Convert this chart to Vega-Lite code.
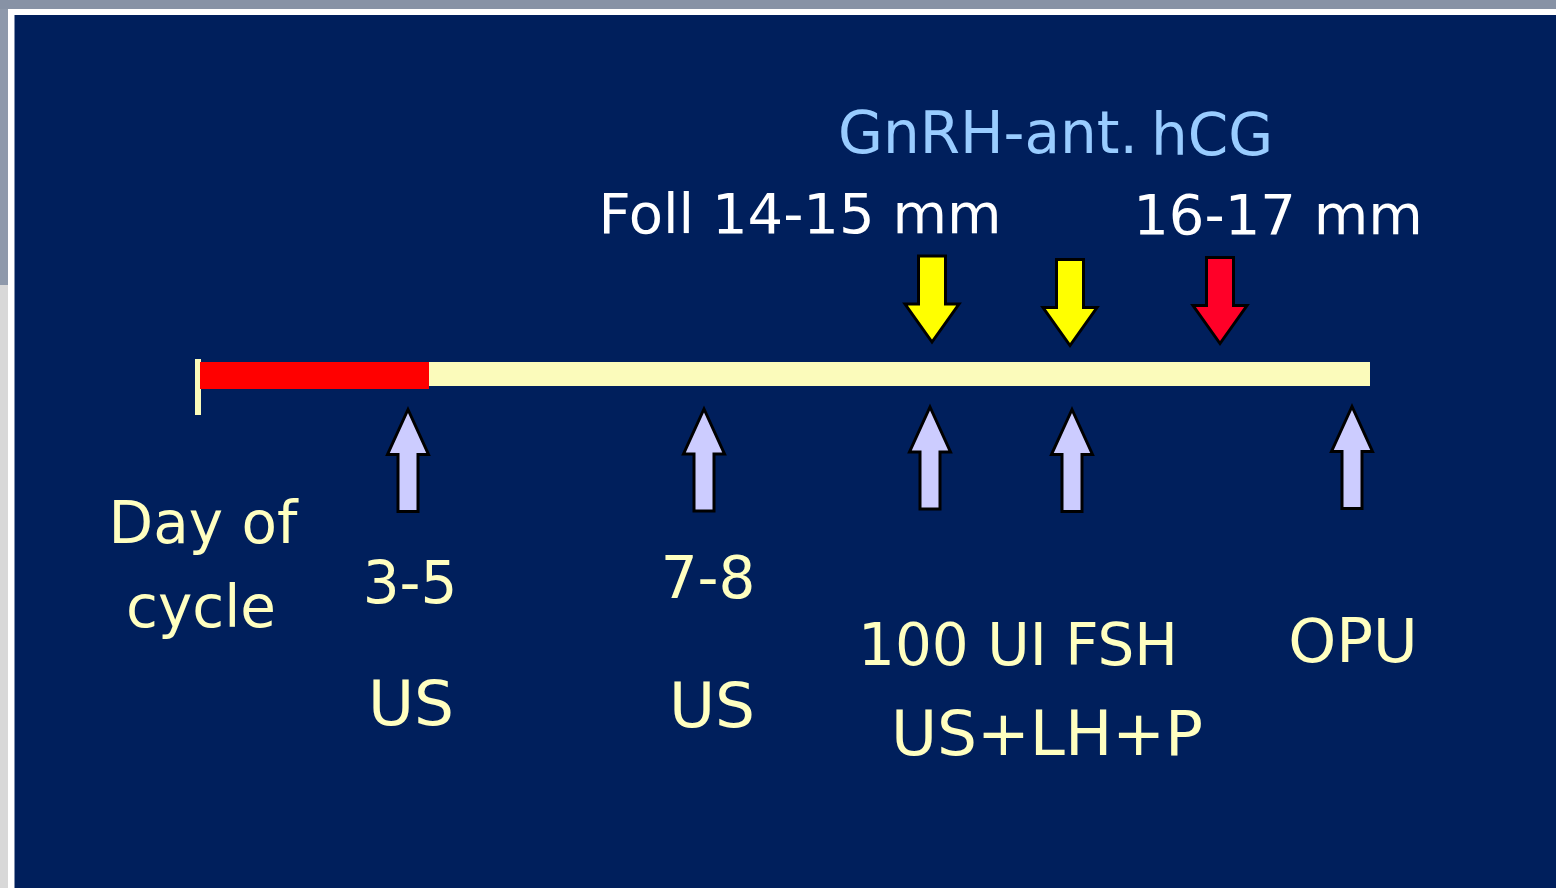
{
  "$schema": "https://vega.github.io/schema/vega-lite/v6.json",
  "width": 1556,
  "height": 888,
  "autosize": {"type": "fit", "contains": "padding"},
  "padding": 0,
  "background": "#ffffff",
  "view": {"stroke": null},
  "config": {"axis": {"disable": true}},
  "datasets": {
    "labels": [
      {"label": "Day  of", "kind": "day", "x": 203, "y": 543},
      {"label": "cycle", "kind": "day", "x": 201, "y": 627},
      {"label": "3-5", "kind": "day", "x": 410, "y": 603},
      {"label": "US", "kind": "procedure", "x": 411, "y": 725},
      {"label": "7-8", "kind": "day", "x": 708, "y": 598},
      {"label": "US", "kind": "procedure", "x": 712, "y": 727},
      {"label": "100 UI FSH", "kind": "day", "x": 1018, "y": 665},
      {"label": "US+LH+P", "kind": "procedure", "x": 1047, "y": 755},
      {"label": "OPU", "kind": "opu", "x": 1353, "y": 662},
      {"label": "Foll 14-15 mm", "kind": "size", "x": 800, "y": 233},
      {"label": "16-17 mm", "kind": "size", "x": 1278, "y": 234},
      {"label": "GnRH-ant.", "kind": "drug", "x": 988, "y": 153},
      {"label": "hCG", "kind": "drug", "x": 1212, "y": 155}
    ]
  },
  "layer": [
    {
      "data": {"values": [
        {"part": "top band", "x0": 0, "x1": 1556, "y0": 0, "y1": 9},
        {"part": "left band upper", "x0": 0, "x1": 8, "y0": 9, "y1": 285},
        {"part": "left band lower", "x0": 0, "x1": 8, "y0": 285, "y1": 888},
        {"part": "slide", "x0": 14.5, "x1": 1556, "y0": 15, "y1": 888}
      ]},
      "mark": {"type": "rect"},
      "encoding": {
        "x": {"field": "x0", "type": "quantitative", "scale": {"domain": [0, 1556], "nice": false, "zero": false}, "axis": null},
        "x2": {"field": "x1"},
        "y": {"field": "y0", "type": "quantitative", "scale": {"domain": [0, 888], "nice": false, "zero": false, "reverse": true}, "axis": null},
        "y2": {"field": "y1"},
        "color": {"field": "part", "type": "nominal", "legend": null,
          "scale": {"domain": ["top band", "left band upper", "left band lower", "slide"], "range": ["#8792a5", "#8e99ab", "#d8d8d8", "#001f5c"]}}
      }
    },
    {
      "data": {"values": [
        {"phase": "start tick", "x0": 195, "x1": 201, "y0": 359, "y1": 415},
        {"phase": "cycle days 1-5", "x0": 200, "x1": 429, "y0": 362, "y1": 389},
        {"phase": "stimulation", "x0": 429, "x1": 1370, "y0": 362, "y1": 386}
      ]},
      "mark": {"type": "rect"},
      "encoding": {
        "x": {"field": "x0", "type": "quantitative"},
        "x2": {"field": "x1"},
        "y": {"field": "y0", "type": "quantitative"},
        "y2": {"field": "y1"},
        "color": {"field": "phase", "type": "nominal", "legend": null,
          "scale": {"domain": ["start tick", "cycle days 1-5", "stimulation"], "range": ["#fbfbbb", "#ff0000", "#fbfbbb"]}}
      }
    },
    {
      "data": {"values": [
        {"event": "US day 3-5", "x": 408, "y": 460.5},
        {"event": "US day 7-8", "x": 704, "y": 460},
        {"event": "FSH + US+LH+P", "x": 930, "y": 458},
        {"event": "FSH + US+LH+P 2", "x": 1072, "y": 460.5},
        {"event": "OPU", "x": 1352, "y": 457.5}
      ]},
      "mark": {"type": "point", "shape": "M0,-1.02 L0.41,-0.12 L0.2,-0.12 L0.2,1.02 L-0.2,1.02 L-0.2,-0.12 L-0.41,-0.12 Z",
        "size": 10000, "filled": true, "fill": "#ccccff", "stroke": "#000000", "strokeWidth": 3, "opacity": 1, "fillOpacity": 1, "strokeOpacity": 1},
      "encoding": {
        "x": {"field": "x", "type": "quantitative"},
        "y": {"field": "y", "type": "quantitative"}
      }
    },
    {
      "data": {"values": [
        {"type": "antagonist", "x": 932, "y": 299},
        {"type": "antagonist", "x": 1070, "y": 302.5},
        {"type": "hCG", "x": 1220, "y": 300.5}
      ]},
      "mark": {"type": "point", "shape": "M-0.27,-0.86 L0.27,-0.86 L0.27,0.1 L0.54,0.1 L0,0.86 L-0.54,0.1 L-0.27,0.1 Z",
        "size": 10000, "filled": true, "stroke": "#000000", "strokeWidth": 3, "opacity": 1, "fillOpacity": 1, "strokeOpacity": 1},
      "encoding": {
        "x": {"field": "x", "type": "quantitative"},
        "y": {"field": "y", "type": "quantitative"},
        "fill": {"field": "type", "type": "nominal", "legend": null,
          "scale": {"domain": ["antagonist", "hCG"], "range": ["#ffff00", "#ff0028"]}}
      }
    },
    {
      "data": {"name": "labels"},
      "transform": [{"filter": "datum.kind === 'day'"}],
      "mark": {"type": "text", "font": "DejaVu Sans", "fontSize": 58, "align": "center", "baseline": "alphabetic", "color": "#ffffc0"},
      "encoding": {
        "x": {"field": "x", "type": "quantitative"},
        "y": {"field": "y", "type": "quantitative"},
        "text": {"field": "label"}
      }
    },
    {
      "data": {"name": "labels"},
      "transform": [{"filter": "datum.kind === 'procedure'"}],
      "mark": {"type": "text", "font": "DejaVu Sans", "fontSize": 63, "align": "center", "baseline": "alphabetic", "color": "#ffffc0"},
      "encoding": {
        "x": {"field": "x", "type": "quantitative"},
        "y": {"field": "y", "type": "quantitative"},
        "text": {"field": "label"}
      }
    },
    {
      "data": {"name": "labels"},
      "transform": [{"filter": "datum.kind === 'opu'"}],
      "mark": {"type": "text", "font": "DejaVu Sans", "fontSize": 61, "align": "center", "baseline": "alphabetic", "color": "#ffffc0"},
      "encoding": {
        "x": {"field": "x", "type": "quantitative"},
        "y": {"field": "y", "type": "quantitative"},
        "text": {"field": "label"}
      }
    },
    {
      "data": {"name": "labels"},
      "transform": [{"filter": "datum.kind === 'size'"}],
      "mark": {"type": "text", "font": "DejaVu Sans", "fontSize": 56, "align": "center", "baseline": "alphabetic", "color": "#ffffff"},
      "encoding": {
        "x": {"field": "x", "type": "quantitative"},
        "y": {"field": "y", "type": "quantitative"},
        "text": {"field": "label"}
      }
    },
    {
      "data": {"name": "labels"},
      "transform": [{"filter": "datum.kind === 'drug'"}],
      "mark": {"type": "text", "font": "DejaVu Sans", "fontSize": 58, "align": "center", "baseline": "alphabetic", "color": "#99ccff"},
      "encoding": {
        "x": {"field": "x", "type": "quantitative"},
        "y": {"field": "y", "type": "quantitative"},
        "text": {"field": "label"}
      }
    }
  ],
  "resolve": {"scale": {"color": "independent", "fill": "independent"}}
}
